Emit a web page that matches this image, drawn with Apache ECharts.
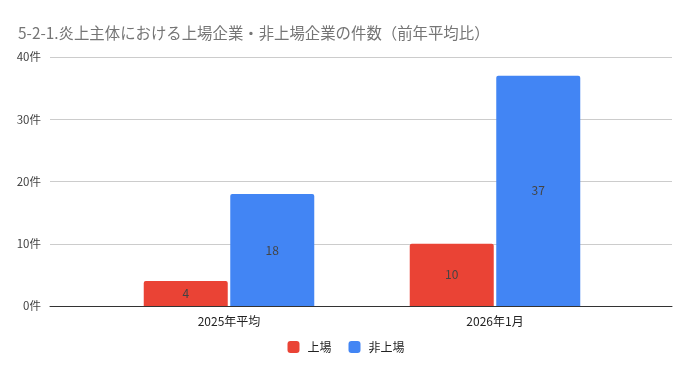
<!DOCTYPE html>
<html><head><meta charset="utf-8">
<script src="https://cdn.jsdelivr.net/npm/echarts@6/dist/echarts.min.js"></script>
<style>html,body{margin:0;padding:0;background:#fff}#c{width:692px;height:371px}</style>
</head><body><div id="c"></div>
<script>
const titleText = '5-2-1.炎上主体における上場企業・非上場企業の件数（前年平均比）';
const categories = ['2025年平均', '2026年1月'];
const listed = [4, 10];
const unlisted = [18, 37];
const seriesNames = ['上場', '非上場'];
const yTicks = [0, 10, 20, 30, 40];
const font = '"Noto Sans CJK JP", Roboto, sans-serif';

const chart = echarts.init(document.getElementById('c'));
chart.setOption({
  animation: false,
  textStyle: { fontFamily: font },
  title: { text: titleText, left: 13, top: 20, textStyle: { color: '#757575', fontSize: 15.4, fontWeight: 'normal', fontFamily: font } },
  legend: {
    data: seriesNames, bottom: 13, left: 'center', itemWidth: 12, itemHeight: 12, itemGap: 17,
    icon: 'roundRect', textStyle: { color: '#222', fontSize: 12, fontFamily: font, padding: [0, 0, 0, 3] }
  },
  grid: [
    { left: 50, right: 20, top: 57, bottom: 65 },
    { left: 96, right: 64, top: 57, bottom: 65 }
  ],
  xAxis: [
    { type: 'category', gridIndex: 0, data: [''], axisLine: { lineStyle: { color: '#333', width: 1 } }, axisTick: { show: false }, axisLabel: { show: false } },
    { type: 'category', gridIndex: 1, data: categories, axisLine: { show: false }, axisTick: { show: false },
      axisLabel: { color: '#222', fontSize: 12, margin: 9, fontFamily: font } }
  ],
  yAxis: [
    { type: 'value', gridIndex: 0, min: yTicks[0], max: yTicks[yTicks.length - 1], interval: 10,
      axisLine: { show: false }, axisTick: { show: false },
      axisLabel: { formatter: '{value}件', color: '#444', fontSize: 11.5, margin: 9, fontFamily: font },
      splitLine: { lineStyle: { color: '#cccccc' } } },
    { type: 'value', gridIndex: 1, min: yTicks[0], max: yTicks[yTicks.length - 1], interval: 10, show: false, splitLine: { show: false } }
  ],
  series: [
    { name: seriesNames[0], type: 'bar', xAxisIndex: 1, yAxisIndex: 1, data: listed, barWidth: 84, barGap: '3%',
      itemStyle: { color: '#ea4335', borderRadius: [2, 2, 0, 0] },
      label: { show: true, position: 'inside', color: '#444', fontSize: 12, fontFamily: font } },
    { name: seriesNames[1], type: 'bar', xAxisIndex: 1, yAxisIndex: 1, data: unlisted, barWidth: 84, barGap: '3%',
      itemStyle: { color: '#4285f4', borderRadius: [2, 2, 0, 0] },
      label: { show: true, position: 'inside', color: '#444', fontSize: 12, fontFamily: font } }
  ]
});
</script></body></html>
